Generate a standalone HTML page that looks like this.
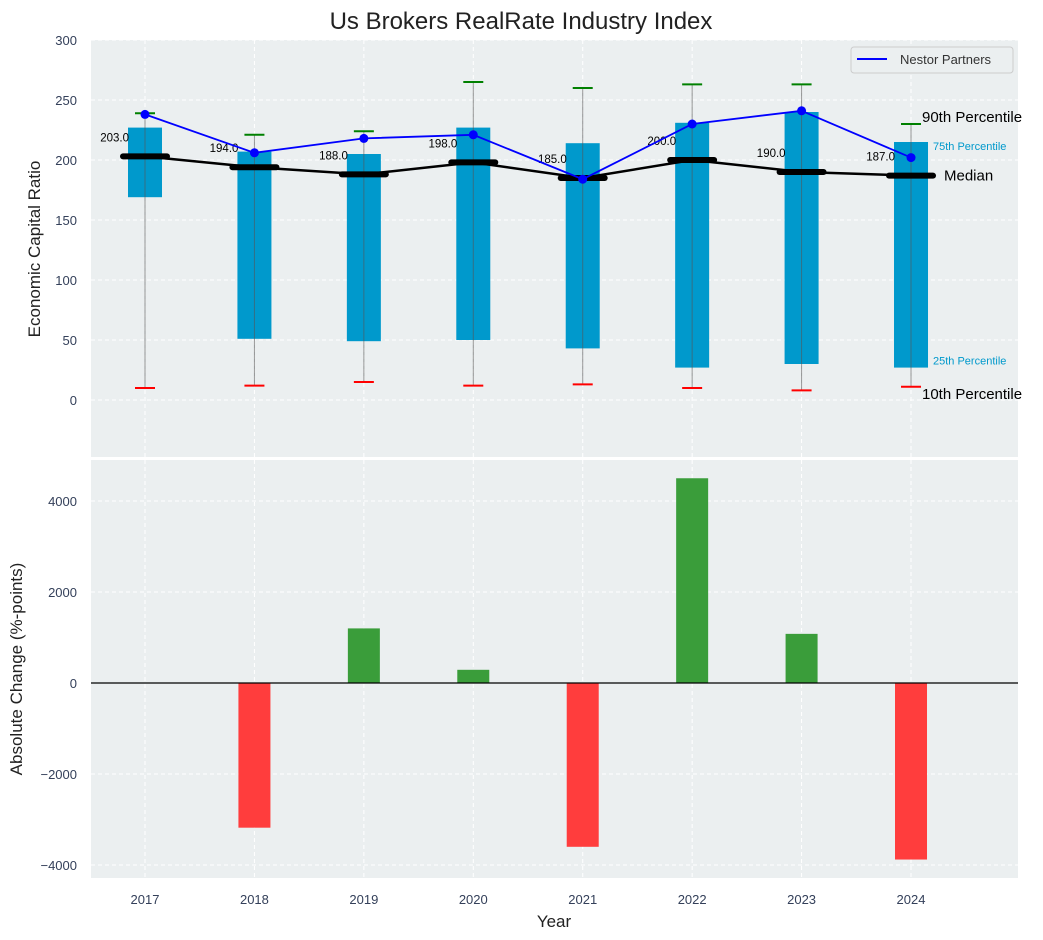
<!DOCTYPE html>
<html><head><meta charset="utf-8"><style>
body{margin:0;background:#fff;}
svg{display:block;font-family:"Liberation Sans",Arial,sans-serif;}
</style></head><body>
<svg id="chart" width="1043" height="940" viewBox="0 0 1043 940" xmlns="http://www.w3.org/2000/svg"></svg>
<script>
const years = [2017,2018,2019,2020,2021,2022,2023,2024];
const p90 = [239,221,224,265,260,263,263,230];
const q75 = [227,207,205,227,214,231,240,215];
const median = [203,194,188,198,185,200,190,187];
const q25 = [169,51,49,50,43,27,30,27];
const p10 = [10,12,15,12,13,10,8,11];
const nestor = [238,206,218,221,184,230,241,202];
const change = [0,-3180,1200,290,-3600,4500,1080,-3880];
const topTicks = [0,50,100,150,200,250,300];
const botTicks = [-4000,-2000,0,2000,4000];

const NS='http://www.w3.org/2000/svg';
const svg=document.getElementById('chart');
function el(tag,attrs,parent){const e=document.createElementNS(NS,tag);for(const k in attrs)e.setAttribute(k,attrs[k]);(parent||svg).appendChild(e);return e;}
const L=91,R=1018;
const x=i=>145+i*109.43;
const yT=v=>400-v*1.2;
const yB=v=>683-v*0.0455;
const T0=40,T1=457,B0=460,B1=878;
const TICK='#34405a';

let bg=el('rect',{x:L,y:T0,width:R-L,height:T1-T0,fill:'#ebeff0'});


bg=el('rect',{x:L,y:B0,width:R-L,height:B1-B0,fill:'#ebeff0'});



years.forEach((yr,i)=>{
  [[T0,T1],[B0,B1]].forEach(([a,b])=>{
    const g=el('line',{x1:x(i),x2:x(i),y1:a,y2:b,stroke:'#fff','stroke-dasharray':'4,3','stroke-width':1});
    
    
  });
  const t=el('text',{x:x(i),y:904,'text-anchor':'middle','font-size':13,fill:TICK});
  t.textContent=yr;
  
  
});
topTicks.forEach(v=>{
  const g=el('line',{x1:L,x2:R,y1:yT(v),y2:yT(v),stroke:'#fff','stroke-dasharray':'4,3'});
  
  
  const t=el('text',{x:77,y:yT(v)+5,'text-anchor':'end','font-size':13,fill:TICK});
  t.textContent=v;
  
  
});
botTicks.forEach(v=>{
  const g=el('line',{x1:L,x2:R,y1:yB(v),y2:yB(v),stroke:'#fff','stroke-dasharray':'4,3'});
  
  
  const t=el('text',{x:77,y:yB(v)+5,'text-anchor':'end','font-size':13,fill:TICK});
  t.textContent=v<0?'\u2212'+Math.abs(v):v;
  
  
});

years.forEach((yr,i)=>{
  const b=el('rect',{x:x(i)-17,y:yT(q75[i]),width:34,height:yT(q25[i])-yT(q75[i]),fill:'#0099cc'});
  
  
  const w=el('line',{x1:x(i),x2:x(i),y1:yT(p90[i]),y2:yT(p10[i]),stroke:'#555','stroke-opacity':0.6,'stroke-width':1});
  
  
  const h=el('line',{x1:x(i)-10,x2:x(i)+10,y1:yT(p90[i]),y2:yT(p90[i]),stroke:'green','stroke-width':2});
  
  
  const l=el('line',{x1:x(i)-10,x2:x(i)+10,y1:yT(p10[i]),y2:yT(p10[i]),stroke:'red','stroke-width':2});
  
  
});
let mp=el('polyline',{points:median.map((v,i)=>x(i)+','+yT(v)).join(' '),fill:'none',stroke:'#000','stroke-width':2.5});


median.forEach((v,i)=>{
  const m=el('line',{x1:x(i)-22,x2:x(i)+22,y1:yT(v),y2:yT(v),stroke:'#000','stroke-width':6,'stroke-linecap':'round'});
  
  
  const t=el('text',{x:x(i)-16,y:yT(v)-15,'text-anchor':'end','font-size':11.5,fill:'#000'});
  t.textContent=v.toFixed(1);
  
  
});
let np=el('polyline',{points:nestor.map((v,i)=>x(i)+','+yT(v)).join(' '),fill:'none',stroke:'#0000ff','stroke-width':1.8});


nestor.forEach((v,i)=>{
  const c=el('circle',{cx:x(i),cy:yT(v),r:4.5,fill:'#0000ff'});
  
  
});
const li=7;
[['90th Percentile',p90[li],922,15,'#000',-2],['75th Percentile',q75[li],933,11,'#0099cc',8],['Median',median[li],944,15,'#000',5],['25th Percentile',q25[li],933,11,'#0099cc',-3],['10th Percentile',p10[li],922,15,'#000',12]].forEach(a=>{
  const t=el('text',{x:a[2],y:yT(a[1])+a[5],'font-size':a[3],fill:a[4]});
  t.textContent=a[0];
  
  
});
let lg=el('rect',{x:851,y:47,width:162,height:26,rx:3,fill:'#ebeff0',stroke:'#ccc'});


let ll=el('line',{x1:857,x2:887,y1:59,y2:59,stroke:'#0000ff','stroke-width':2});


let lt=el('text',{x:900,y:64,'font-size':13,fill:'#333'});
lt.textContent='Nestor Partners';



change.forEach((v,i)=>{
  if(v===0)return;
  const y0=yB(Math.max(v,0)),y1=yB(Math.min(v,0));
  const b=el('rect',{x:x(i)-16,y:y0,width:32,height:y1-y0,fill:v>0?'#3a9d3a':'#ff3d3d'});
  
  
});
let zl=el('line',{x1:L,x2:R,y1:yB(0),y2:yB(0),stroke:'#000','stroke-width':1.2});



let tt=el('text',{x:521,y:29,'text-anchor':'middle','font-size':24,fill:'#222'});
tt.textContent='Us Brokers RealRate Industry Index';


let y1t=el('text',{x:0,y:0,'text-anchor':'middle','font-size':17,fill:'#222',transform:'translate(40,249) rotate(-90)'});
y1t.textContent='Economic Capital Ratio';


let y2t=el('text',{x:0,y:0,'text-anchor':'middle','font-size':17,fill:'#222',transform:'translate(22,669) rotate(-90)'});
y2t.textContent='Absolute Change (%-points)';


let xt=el('text',{x:554,y:927,'text-anchor':'middle','font-size':17,fill:'#222'});
xt.textContent='Year';


</script>
</body></html>
